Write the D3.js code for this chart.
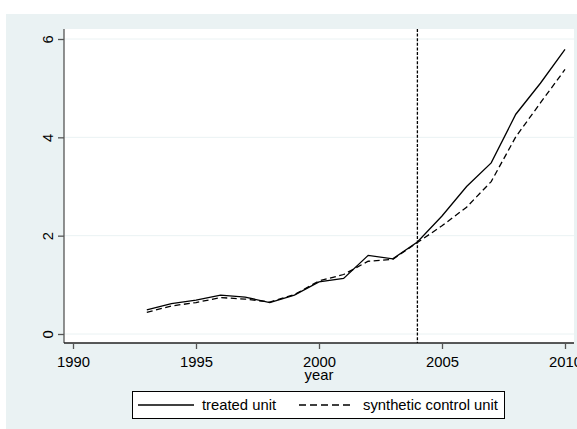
<!DOCTYPE html>
<html>
<head>
<meta charset="utf-8">
<script src="https://cdn.jsdelivr.net/npm/d3@7"></script>
<style>
  html, body { margin: 0; padding: 0; background: #ffffff; }
  svg { display: block; }
  text { font-family: "Liberation Sans", Arial, sans-serif; fill: #000; }
</style>
</head>
<body>
<svg id="chart" width="577" height="429"></svg>
<script>
// Outcome path of the treated unit and its synthetic control, 1993–2010
const years = [1993, 1994, 1995, 1996, 1997, 1998, 1999, 2000, 2001, 2002, 2003, 2004, 2005, 2006, 2007, 2008, 2009, 2010];
const treated = [0.49, 0.62, 0.69, 0.79, 0.75, 0.64, 0.79, 1.06, 1.13, 1.60, 1.53, 1.87, 2.40, 3.00, 3.48, 4.47, 5.10, 5.79];
const synthetic = [0.44, 0.57, 0.64, 0.74, 0.71, 0.65, 0.80, 1.08, 1.21, 1.48, 1.52, 1.86, 2.20, 2.58, 3.10, 4.01, 4.70, 5.38];
const xTicks = [1990, 1995, 2000, 2005, 2010];
const yTicks = [0, 2, 4, 6];
const treatmentYear = 2004;
const seriesNames = ["treated unit", "synthetic control unit"];

const svg = d3.select("#chart");
const W = 577, H = 429;

// outer graph region
svg.append("rect").attr("x", 6).attr("y", 14).attr("width", W - 6).attr("height", H - 14)
  .attr("fill", "#eaf2f3");

const plot = { left: 64, right: 574, top: 29, bottom: 343 };
svg.append("rect").attr("x", plot.left).attr("y", plot.top)
  .attr("width", plot.right - plot.left).attr("height", plot.bottom - plot.top)
  .attr("fill", "#ffffff");

const x = d3.scaleLinear().domain([1990, 2010]).range([73, 565]);
const y = d3.scaleLinear().domain([0, 6]).range([334, 39]);

// horizontal grid lines
svg.append("g").selectAll("line").data(yTicks).join("line")
  .attr("x1", plot.left).attr("x2", plot.right)
  .attr("y1", d => y(d)).attr("y2", d => y(d))
  .attr("stroke", "#eaf2f3").attr("stroke-width", 1);

// y axis
const yAxis = svg.append("g").attr("transform", `translate(${plot.left},0)`)
  .call(d3.axisLeft(y).tickValues(yTicks).tickFormat(d3.format("d")).tickSize(6).tickPadding(4));
yAxis.select(".domain").attr("d", `M0,${plot.top}V${plot.bottom}`).attr("stroke", "#555").attr("stroke-width", 1.3);
yAxis.selectAll(".tick line").attr("stroke", "#555").attr("stroke-width", 1.3);
yAxis.selectAll(".tick text")
  .attr("font-size", "14.8px")
  .attr("x", 0).attr("dy", null)
  .attr("text-anchor", "middle")
  .attr("transform", "translate(-11,0) rotate(-90)")
  .attr("y", 0)
  .attr("dominant-baseline", "auto")
  .style("font-family", "Liberation Sans, Arial, sans-serif");

// x axis
const xAxis = svg.append("g").attr("transform", `translate(0,${plot.bottom})`)
  .call(d3.axisBottom(x).tickValues(xTicks).tickFormat(d3.format("d")).tickSize(6).tickPadding(7.5));
xAxis.select(".domain").attr("d", `M${plot.left},0H${plot.right}`).attr("stroke", "#222").attr("stroke-width", 1.3);
xAxis.selectAll(".tick line").attr("stroke", "#555").attr("stroke-width", 1.3);
xAxis.selectAll(".tick text").attr("font-size", "14.8px")
  .style("font-family", "Liberation Sans, Arial, sans-serif");

svg.append("text").attr("x", (plot.left + plot.right) / 2).attr("y", 380)
  .attr("text-anchor", "middle").attr("font-size", "14.8px").text("year");

// treatment year marker
svg.append("line")
  .attr("x1", x(treatmentYear)).attr("x2", x(treatmentYear))
  .attr("y1", plot.top).attr("y2", plot.bottom)
  .attr("stroke", "#000").attr("stroke-width", 1.3).attr("stroke-dasharray", "3,1.6");

const line = d3.line().x((d, i) => x(years[i])).y(d => y(d));

svg.append("path").datum(synthetic).attr("d", line)
  .attr("fill", "none").attr("stroke", "#000").attr("stroke-width", 1.3)
  .attr("stroke-dasharray", "6,3.5");
svg.append("path").datum(treated).attr("d", line)
  .attr("fill", "none").attr("stroke", "#000").attr("stroke-width", 1.3);

// legend
const lg = svg.append("g");
lg.append("rect").attr("x", 132.5).attr("y", 391.5).attr("width", 372).attr("height", 27)
  .attr("fill", "#fff").attr("stroke", "#000").attr("stroke-width", 1);
lg.append("line").attr("x1", 138).attr("x2", 194).attr("y1", 405).attr("y2", 405)
  .attr("stroke", "#000").attr("stroke-width", 1.3);
lg.append("text").attr("x", 202).attr("y", 410).attr("font-size", "14.8px").text(seriesNames[0]);
lg.append("line").attr("x1", 299).attr("x2", 354).attr("y1", 405).attr("y2", 405)
  .attr("stroke", "#000").attr("stroke-width", 1.3).attr("stroke-dasharray", "7,4");
lg.append("text").attr("x", 363).attr("y", 410).attr("font-size", "14.8px").text(seriesNames[1]);
</script>
</body>
</html>
